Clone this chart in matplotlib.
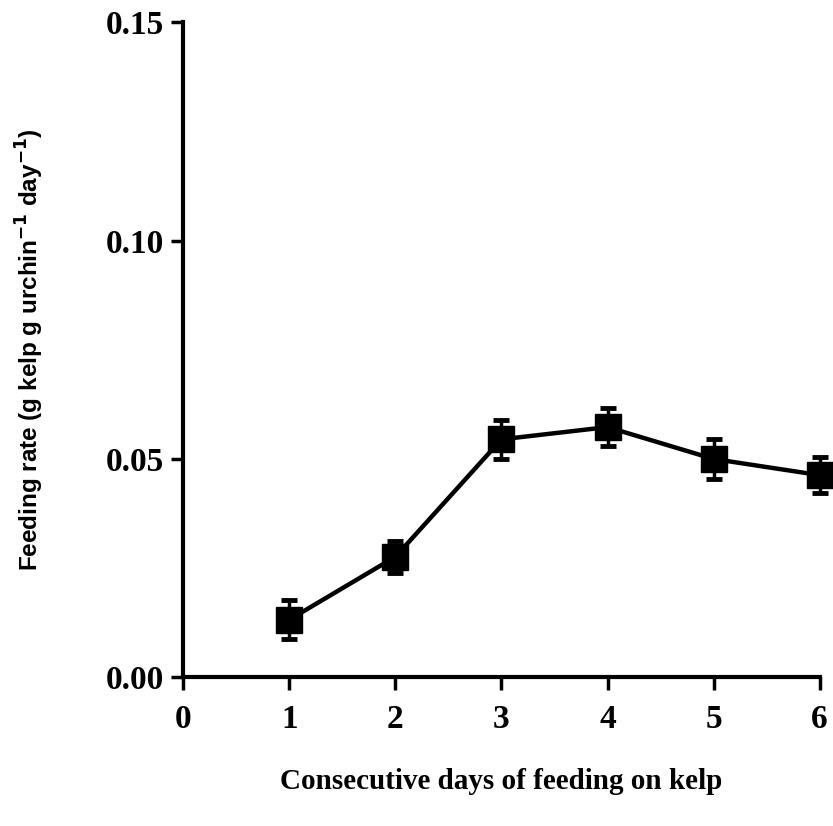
import matplotlib.pyplot as plt

days = [1, 2, 3, 4, 5, 6]
rate = [0.0132, 0.0276, 0.0545, 0.0573, 0.0500, 0.0463]
err = [0.0044, 0.0036, 0.0044, 0.0043, 0.0045, 0.0042]
xticks = [0, 1, 2, 3, 4, 5, 6]
yticks = [0.00, 0.05, 0.10, 0.15]

plt.rcParams['font.family'] = ['Liberation Serif', 'DejaVu Serif']

fig = plt.figure(figsize=(8.33, 8.26), dpi=100)
ax = fig.add_axes([0.22, 0.18, 0.764, 0.793])

ax.errorbar(days, rate, yerr=err, color='black', linewidth=3.2,
            marker='s', markersize=19, elinewidth=2.5, capsize=6, capthick=3.5,
            clip_on=False, zorder=3)

ax.set_xlim(0, 6)
ax.set_ylim(0, 0.15)
ax.set_xticks(xticks)
ax.set_yticks(yticks)
ax.set_yticklabels([f"{v:.2f}" for v in yticks])

for side in ['top', 'right']:
    ax.spines[side].set_visible(False)
for side in ['left', 'bottom']:
    ax.spines[side].set_linewidth(3)

ax.tick_params(direction='out', length=9, width=2.5, labelsize=24)
ax.tick_params(axis='x', pad=10)
ax.tick_params(axis='y', pad=5)
for lab in ax.get_xticklabels() + ax.get_yticklabels():
    lab.set_fontweight('bold')

ax.set_xlabel("Consecutive days of feeding on kelp", fontsize=21,
              fontweight='bold', labelpad=24)
ax.set_ylabel("Feeding rate (g kelp g urchin$^{\\mathbf{-1}}$ day$^{\\mathbf{-1}}$)",
              fontsize=17.5, fontweight='bold', family=['Liberation Sans', 'DejaVu Sans'])
ax.yaxis.set_label_coords(-0.215, 0.5)

fig.savefig("out.png", dpi=100)
